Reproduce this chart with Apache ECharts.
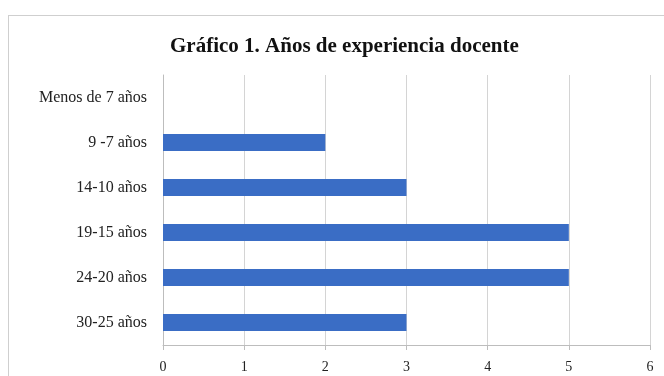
<!DOCTYPE html>
<html>
<head>
<meta charset="utf-8">
<script src="https://cdn.jsdelivr.net/npm/echarts@6/dist/echarts.min.js"></script>
<style>
  html, body { margin: 0; padding: 0; background: #fff; }
  #frame { position: absolute; left: 8px; top: 15px; width: 670px; height: 380px; border: 1px solid #cfcfcf; box-sizing: border-box; }
  #chart { position: absolute; left: 0; top: 0; width: 664px; height: 376px; }
</style>
</head>
<body>
<div id="frame"></div>
<div id="chart"></div>
<script>
  // categorias de arriba a abajo
  var categorias = ['Menos de 7 años', '9 -7 años', '14-10 años', '19-15 años', '24-20 años', '30-25 años'];
  var valores = [0, 2, 3, 5, 5, 3];
  var titulo = 'Gráfico 1. Años de experiencia docente';

  let myChart = echarts.init(document.getElementById('chart'));
  myChart.setOption({
    animation: false,
    title: {
      text: titulo,
      left: 165,
      top: 31,
      textStyle: {
        fontFamily: 'Liberation Serif',
        fontWeight: 'bold',
        fontSize: 21,
        color: '#111'
      }
    },
    grid: {
      left: 163,
      right: 14,
      top: 75,
      bottom: 31
    },
    xAxis: {
      type: 'value',
      min: 0,
      max: 6,
      interval: 1,
      axisLine: { show: true, lineStyle: { color: '#bdbdbd' } },
      axisTick: { show: true, length: 5, lineStyle: { color: '#bdbdbd' } },
      axisLabel: {
        color: '#222',
        fontFamily: 'Liberation Serif',
        fontSize: 14,
        margin: 15
      },
      splitLine: { show: true, lineStyle: { color: '#d4d4d4', width: 1 } }
    },
    yAxis: {
      type: 'category',
      data: categorias,
      inverse: true,
      axisLine: { show: true, lineStyle: { color: '#bdbdbd' } },
      axisTick: { show: false },
      axisLabel: {
        color: '#222',
        fontFamily: 'Liberation Serif',
        fontSize: 16,
        margin: 16
      }
    },
    series: [{
      type: 'bar',
      data: valores,
      barWidth: 17,
      itemStyle: {
        color: '#3a6dc5'
      }
    }]
  });
  window.onresize = myChart.resize;
</script>
</body>
</html>
